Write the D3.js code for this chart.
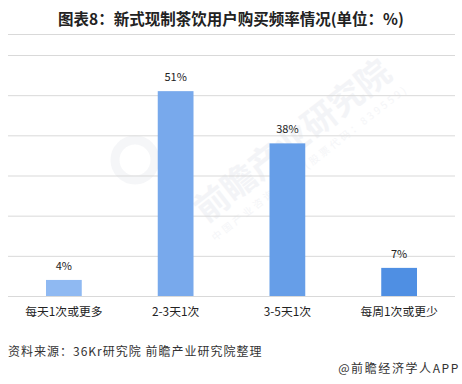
<!DOCTYPE html>
<html>
<head>
<meta charset="utf-8">
<script src="https://cdn.jsdelivr.net/npm/d3@7"></script>
<style>
  html, body { margin: 0; padding: 0; background: #fff; }
  svg { display: block; font-family: "Microsoft YaHei", "Noto Sans CJK SC", sans-serif; }
</style>
</head>
<body>
<svg id="chart" width="462" height="384"></svg>
<script>
// Purchase frequency of new-style tea drink consumers (%)
const categories = ["每天1次或更多", "2-3天1次", "3-5天1次", "每周1次或更少"];
const shares = [4, 51, 38, 7];
const barColors = ["#8fb9f2", "#78a9ec", "#669ee8", "#4f8fe3"];
const yTicks = [0, 10, 20, 30, 40, 50, 60];

const svg = d3.select("#chart");
const margin = { left: 8, right: 7, top: 55, bottom: 88 };
const W = 462, H = 384;

const x = d3.scaleBand()
  .domain(categories)
  .range([margin.left, W - margin.right])
  .paddingInner(0.68)
  .paddingOuter(0.34);

const y = d3.scaleLinear()
  .domain([0, 60])
  .range([H - margin.bottom, margin.top]);

// Title
svg.append("text")
  .attr("x", 231).attr("y", 25)
  .attr("text-anchor", "middle")
  .attr("font-size", 15.5).attr("font-weight", "bold")
  .attr("fill", "#222")
  .text("图表8：新式现制茶饮用户购买频率情况(单位：%)");

// Separator under the title
svg.append("line")
  .attr("x1", 8).attr("x2", 455)
  .attr("y1", 34.5).attr("y2", 34.5)
  .attr("stroke", "#d9d9d9").attr("stroke-width", 1);

// Faint watermark
const wm = svg.append("g").attr("transform", "translate(300,150) rotate(-38)").attr("opacity", 0.4);
wm.append("text").attr("x", 0).attr("y", 0)
  .attr("text-anchor", "middle").attr("font-size", 34).attr("font-weight", "bold")
  .attr("fill", "#e3e6ec").text("前瞻产业研究院");
wm.append("text").attr("x", 0).attr("y", 20)
  .attr("text-anchor", "middle").attr("font-size", 10)
  .attr("fill", "#e6e8ee").attr("letter-spacing", 3).text("中国产业咨询领导者(股票代码：839559)");
svg.append("circle").attr("cx", 135).attr("cy", 160).attr("r", 20)
  .attr("fill", "none").attr("stroke", "#eef0f4").attr("stroke-width", 9).attr("opacity", 0.6);

// Horizontal gridlines from the y scale
const axis = d3.axisLeft(y).tickValues(yTicks).tickSize(-(W - margin.left - margin.right)).tickFormat("");
const g = svg.append("g").attr("transform", `translate(${margin.left},0)`).call(axis);
g.select(".domain").remove();
g.selectAll(".tick line").attr("stroke", "#d9d9d9").attr("stroke-width", 1);

// Bars
svg.selectAll("rect.bar")
  .data(shares)
  .join("rect")
  .attr("class", "bar")
  .attr("x", (d, i) => x(categories[i]))
  .attr("width", x.bandwidth())
  .attr("y", d => y(d))
  .attr("height", d => y(0) - y(d))
  .attr("fill", (d, i) => barColors[i]);

// Value labels
svg.selectAll("text.val")
  .data(shares)
  .join("text")
  .attr("class", "val")
  .attr("x", (d, i) => x(categories[i]) + x.bandwidth() / 2)
  .attr("y", d => y(d) - 10)
  .attr("text-anchor", "middle")
  .attr("font-size", 11)
  .attr("fill", "#222")
  .text(d => d + "%");

// Category labels
svg.selectAll("text.cat")
  .data(categories)
  .join("text")
  .attr("class", "cat")
  .attr("x", d => x(d) + x.bandwidth() / 2)
  .attr("y", 316)
  .attr("text-anchor", "middle")
  .attr("font-size", 11.8)
  .attr("fill", "#222")
  .text(d => d);

// Source note
svg.append("text")
  .attr("x", 8).attr("y", 355.5)
  .attr("font-size", 12).attr("fill", "#333")
  .attr("letter-spacing", 1)
  .text("资料来源：36Kr研究院 前瞻产业研究院整理");

svg.append("text")
  .attr("x", 460).attr("y", 373)
  .attr("text-anchor", "end")
  .attr("font-size", 12).attr("fill", "#333")
  .attr("letter-spacing", 1.6)
  .text("@前瞻经济学人APP");
</script>
</body>
</html>
